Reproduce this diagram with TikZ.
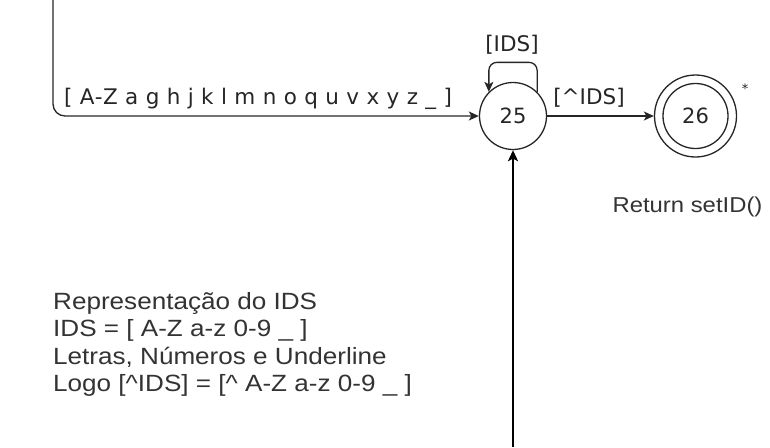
\documentclass[tikz,border=0pt]{standalone}
\usepackage{fontspec}
\setmainfont{Liberation Sans}
\newfontfamily\notefont[FakeStretch=1.11]{Liberation Sans}
\newfontfamily\labfont{DejaVu Sans}
\newfontfamily\labfontsp[LetterSpace=2.6]{DejaVu Sans}
\usetikzlibrary{arrows.meta,calc}
\tikzset{
  edge/.style={line width=1.3pt, draw=black!85, -{Stealth[length=10pt,width=9pt,inset=2.5pt]}},
  thickedge/.style={line width=2.6pt, draw=black, -{Stealth[length=11pt,width=10pt,inset=2.5pt]}},
  state/.style={circle, draw=black!85, line width=1.3pt, inner sep=0pt, font=\labfont\fontsize{21}{25}\selectfont, text=black!85},
  lab/.style={inner sep=0pt, font=\labfont\fontsize{21.5}{25}\selectfont, text=black!85},
  note/.style={inner sep=0pt, font=\notefont\fontsize{23.5}{27.5}\selectfont, text=black!80, align=left},
}
\begin{document}
\begin{tikzpicture}[x=1pt,y=-1pt]
\useasboundingbox (0,0) rectangle (770,447);
\node[state, minimum size=67pt] (s25) at (513,116) {25};
\node[state, minimum size=82pt] (s26) at (695.5,116) {26};
\draw[black!85, line width=1.3pt] (s26.center) circle[radius=32.5pt];
\node[lab, font=\labfont\fontsize{13}{15}\selectfont] (star) at (745,89) {*};
\coordinate (tl) at (53,0);
\coordinate (bot) at (513,447);
\draw[edge, rounded corners=12pt] (tl) |- (s25.west);
\node[lab, font=\labfontsp\fontsize{21.5}{25}\selectfont, anchor=base west] (lbig) at (64,104) {[ A-Z a g h j k l m n o q u v x y z \_ ]};
\draw[edge, rounded corners=8pt] (s25.45) -- ++(0,-29.5) -| (s25.135);
\node[lab] (lids) at (512,45) {[IDS]};
\draw[edge] (s25) -- (s26);
\node[lab] (lnids) at (589,98) {[\textasciicircum IDS]};
\node[inner sep=0pt, font=\notefont\fontsize{21.5}{25}\selectfont, text=black!80, anchor=base] (ret) at (687.5,212.5) {Return setID()};
\draw[thickedge] (bot) -- (s25.south);
\node[note, anchor=north west] (info) at (53,292) {Representação do IDS\\IDS = [ A-Z a-z 0-9 \_ ]\\Letras, Números e Underline\\Logo [\textasciicircum IDS] = [\textasciicircum{} A-Z a-z 0-9 \_ ]};
\end{tikzpicture}
\end{document}
